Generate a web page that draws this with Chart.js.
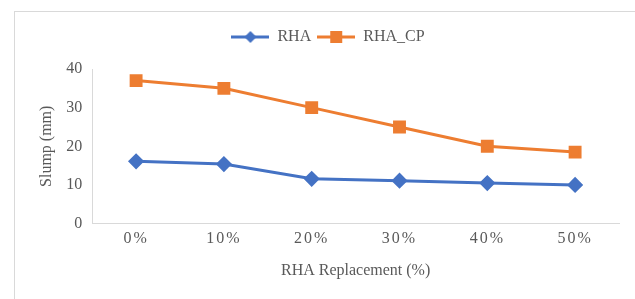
<!DOCTYPE html>
<html><head><meta charset="utf-8">
<script src="https://cdn.jsdelivr.net/npm/chart.js@4/dist/chart.umd.min.js"></script>
<style>
html,body{margin:0;padding:0;background:#fff;overflow:hidden;}
#wrap{position:relative;width:635px;height:299px;}
#frame{position:absolute;left:14px;top:11px;width:640px;height:300px;border:1px solid #d9d9d9;box-sizing:border-box;}
canvas{position:absolute;left:0;top:0;}
</style></head><body>
<div id="wrap"><div id="frame"></div><canvas id="c" width="635" height="299"></canvas></div>
<script>
const categories = ["0%","10%","20%","30%","40%","50%"];
const rhaValues = [16.1, 15.4, 11.6, 11.1, 10.5, 10.0];
const rhaCpValues = [37, 35, 30, 25, 20, 18.5];
const yTicks = [0, 10, 20, 30, 40];

const BLUE = "#4472c4", ORANGE = "#ed7d31";
const FONT = "'Liberation Serif', 'Times New Roman', serif";
const TXT = '#595959';

function legendIcon(color, style){
  const c = document.createElement('canvas');
  c.width = 38; c.height = 14;
  const g = c.getContext('2d');
  g.strokeStyle = color; g.lineWidth = 3;
  g.beginPath(); g.moveTo(0,7); g.lineTo(38,7); g.stroke();
  g.fillStyle = color;
  if (style === 'rectRot'){
    g.beginPath(); g.moveTo(19,1); g.lineTo(25,7); g.lineTo(19,13); g.lineTo(13,7); g.closePath(); g.fill();
  } else {
    g.fillRect(13,1,12,12);
  }
  return c;
}

const layoutTweaks = {
  id: 'layoutTweaks',
  beforeUpdate(chart){
    const lg = chart.legend;
    if (lg && !lg._patched){
      const of = lg.fit.bind(lg);
      lg.fit = function(){ of(); this.height += 14; };
      lg._patched = true;
    }
  },
  afterLayout(chart){
    const xs = chart.scales.x;
    if (xs && !xs._patched){
      const od = xs.drawLabels.bind(xs);
      xs.drawLabels = function(area){
        const ctx = this.ctx;
        ctx.save();
        try { ctx.letterSpacing = '2px'; } catch(e){}
        od(area);
        ctx.restore();
      };
      xs._patched = true;
    }
  }
};

new Chart(document.getElementById('c'), {
  type: 'line',
  data: {
    labels: categories,
    datasets: [
      {label:'RHA', data: rhaValues, borderColor: BLUE, backgroundColor: BLUE, borderWidth: 3,
       pointStyle:'rectRot', pointRadius: 6, pointHoverRadius: 6, tension: 0},
      {label:'RHA_CP', data: rhaCpValues, borderColor: ORANGE, backgroundColor: ORANGE, borderWidth: 3,
       pointStyle:'rect', pointRadius: 7, pointHoverRadius: 7, tension: 0}
    ]
  },
  plugins: [layoutTweaks],
  options: {
    responsive: false,
    animation: false,
    devicePixelRatio: 1,
    layout: {padding: {left: 37, right: 16, top: 23, bottom: 19}},
    plugins: {
      tooltip: {enabled:false},
      legend: {
        position: 'top',
        labels: {
          usePointStyle: true,
          pointStyleWidth: 38,
          boxHeight: 14,
          font: {family: FONT, size: 16},
          color: TXT,
          padding: 6,
          generateLabels(chart){
            return chart.data.datasets.map((ds,i)=>({
              text: ds.label,
              fillStyle: ds.borderColor,
              strokeStyle: ds.borderColor,
              pointStyle: legendIcon(ds.borderColor, ds.pointStyle),
              datasetIndex: i,
              fontColor: TXT,
              lineWidth: 0
            }));
          }
        }
      }
    },
    scales: {
      x: {
        offset: true,
        grid: {display: false, drawTicks: false},
        border: {display: true, color: '#d9d9d9', width: 1},
        ticks: {font: {family: FONT, size: 16}, color: TXT, padding: 6},
        title: {display: true, text: 'RHA Replacement (%)', font: {family: FONT, size: 16}, color: TXT, padding: {top: 6, bottom: 0}}
      },
      y: {
        min: 0, max: 40,
        afterBuildTicks(s){ s.ticks = yTicks.map(v=>({value:v})); },
        grid: {display: false, drawTicks: false},
        border: {display: true, color: '#d9d9d9', width: 1},
        ticks: {font: {family: FONT, size: 16}, color: TXT, padding: 10},
        title: {display: true, text: 'Slump (mm)', font: {family: FONT, size: 16}, color: TXT, padding: {top: 0, bottom: 0}}
      }
    }
  }
});
</script>
</body></html>
